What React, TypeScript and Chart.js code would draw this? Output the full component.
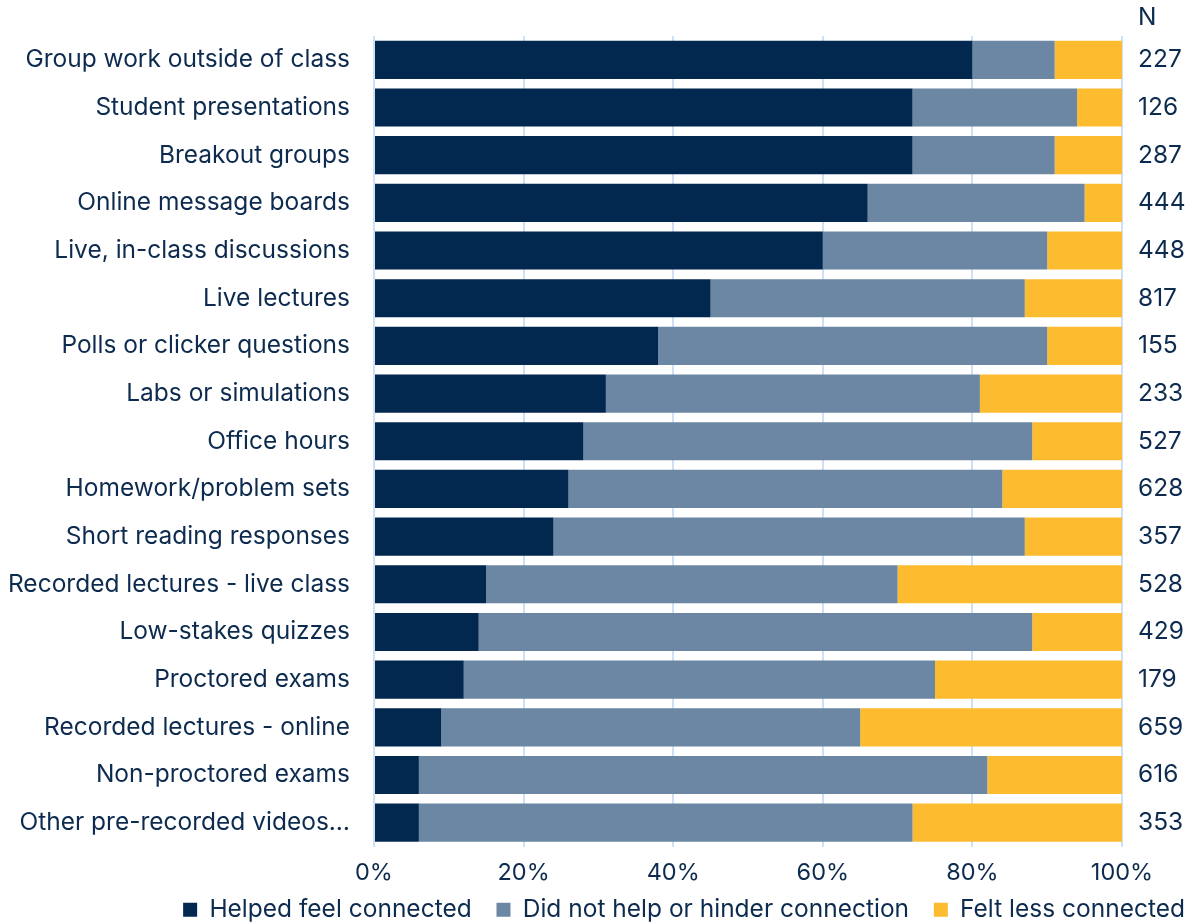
import React, { useEffect, useRef } from "react";
import { Chart, registerables } from "chart.js";

Chart.register(...registerables);

const categories = [
  "Group work outside of class",
  "Student presentations",
  "Breakout groups",
  "Online message boards",
  "Live, in-class discussions",
  "Live lectures",
  "Polls or clicker questions",
  "Labs or simulations",
  "Office hours",
  "Homework/problem sets",
  "Short reading responses",
  "Recorded lectures - live class",
  "Low-stakes quizzes",
  "Proctored exams",
  "Recorded lectures - online",
  "Non-proctored exams",
  "Other pre-recorded videos…",
];

const helped = [80, 72, 72, 66, 60, 45, 38, 31, 28, 26, 24, 15, 14, 12, 9, 6, 6];
const neutral = [11, 22, 19, 29, 30, 42, 52, 50, 60, 58, 63, 55, 74, 63, 56, 76, 66];
const lessConnected = [9, 6, 9, 5, 10, 13.3, 10, 19, 12, 16, 13, 30, 12, 25, 35, 18.3, 28];
const nValues = ["227", "126", "287", "444", "448", "817", "155", "233", "527", "628", "357", "528", "429", "179", "659", "616", "353"];

const seriesNames = ["Helped feel connected", "Did not help or hinder connection", "Felt less connected"];
const xTicks = [0, 20, 40, 60, 80, 100];

const NAVY = "#03284f";
const SLATE = "#6b87a3";
const YELLOW = "#fdbb30";
const TEXT = "#0d2b4e";
const GRID = "#cde0f6";
const FONT = "Inter";
const FS = 24.5;
const FS_X = 23.5;

export default function App() {
  const ref = useRef<HTMLCanvasElement | null>(null);

  useEffect(() => {
    if (!ref.current) return;
    const headerPlugin = {
      id: "nHeader",
      afterDraw(chart: any) {
        const ctx = chart.ctx;
        const s = chart.scales.y2;
        ctx.save();
        ctx.font = `${FS}px ${FONT}`;
        ctx.fillStyle = TEXT;
        ctx.textAlign = "left";
        ctx.textBaseline = "middle";
        ctx.fillText("N", s.left + 16, 18);
        ctx.restore();
      },
    };
    const baseGen = (Chart as any).defaults.plugins.legend.labels.generateLabels;
    const chart = new Chart(ref.current, {
      type: "bar",
      data: {
        labels: categories,
        datasets: [
          { label: seriesNames[0], data: helped, backgroundColor: NAVY },
          { label: seriesNames[1], data: neutral, backgroundColor: SLATE },
          { label: seriesNames[2], data: lessConnected, backgroundColor: YELLOW },
        ],
      },
      options: {
        indexAxis: "y",
        animation: false,
        responsive: false,
        datasets: { bar: { barPercentage: 0.8, categoryPercentage: 1 } },
        layout: { padding: { top: 36, left: 0, right: 0, bottom: 0 } },
        scales: {
          x: {
            stacked: true,
            min: 0,
            max: 100,
            afterBuildTicks(scale: any) {
              scale.ticks = xTicks.map((v) => ({ value: v }));
            },
            ticks: {
              color: TEXT,
              font: { family: FONT, size: FS_X },
              padding: 12,
              callback: (v: any) => `${v}%`,
            },
            grid: { color: GRID, lineWidth: 2, drawTicks: false },
            border: { display: false },
            afterFit(scale: any) {
              scale.height = 40;
              scale.paddingLeft = 0;
              scale.paddingRight = 0;
            },
          },
          y: {
            stacked: true,
            ticks: { color: TEXT, font: { family: FONT, size: FS }, padding: 24 },
            grid: { display: false, drawTicks: false },
            border: { display: false },
            afterFit(scale: any) {
              scale.width = 374;
              scale.paddingTop = 0;
              scale.paddingBottom = 0;
            },
          },
          y2: {
            type: "category",
            position: "right",
            labels: nValues,
            offset: true,
            ticks: { color: TEXT, font: { family: FONT, size: FS }, padding: 16 },
            grid: { display: false, drawTicks: false },
            border: { display: false },
            afterFit(scale: any) {
              scale.width = 74;
              scale.paddingTop = 0;
              scale.paddingBottom = 0;
            },
          },
        },
        plugins: {
          legend: {
            position: "bottom",
            align: "end",
            labels: {
              color: TEXT,
              font: { family: FONT, size: FS },
              boxWidth: 14,
              boxHeight: 14,
              padding: 11,
              generateLabels(chart: any) {
                const items = baseGen(chart);
                return items.map((it: any, i: number) => ({
                  ...it,
                  text: i < items.length - 1 ? it.text + "  " : it.text,
                }));
              },
            },
          },
          tooltip: { enabled: false },
        },
      } as any,
      plugins: [headerPlugin],
    });
    return () => chart.destroy();
  }, []);

  return (
    <div style={{ position: "absolute", left: 0, top: 0, width: 1196, height: 932 }}>
      <canvas ref={ref} width={1196} height={932} style={{ display: "block" }} />
    </div>
  );
}
